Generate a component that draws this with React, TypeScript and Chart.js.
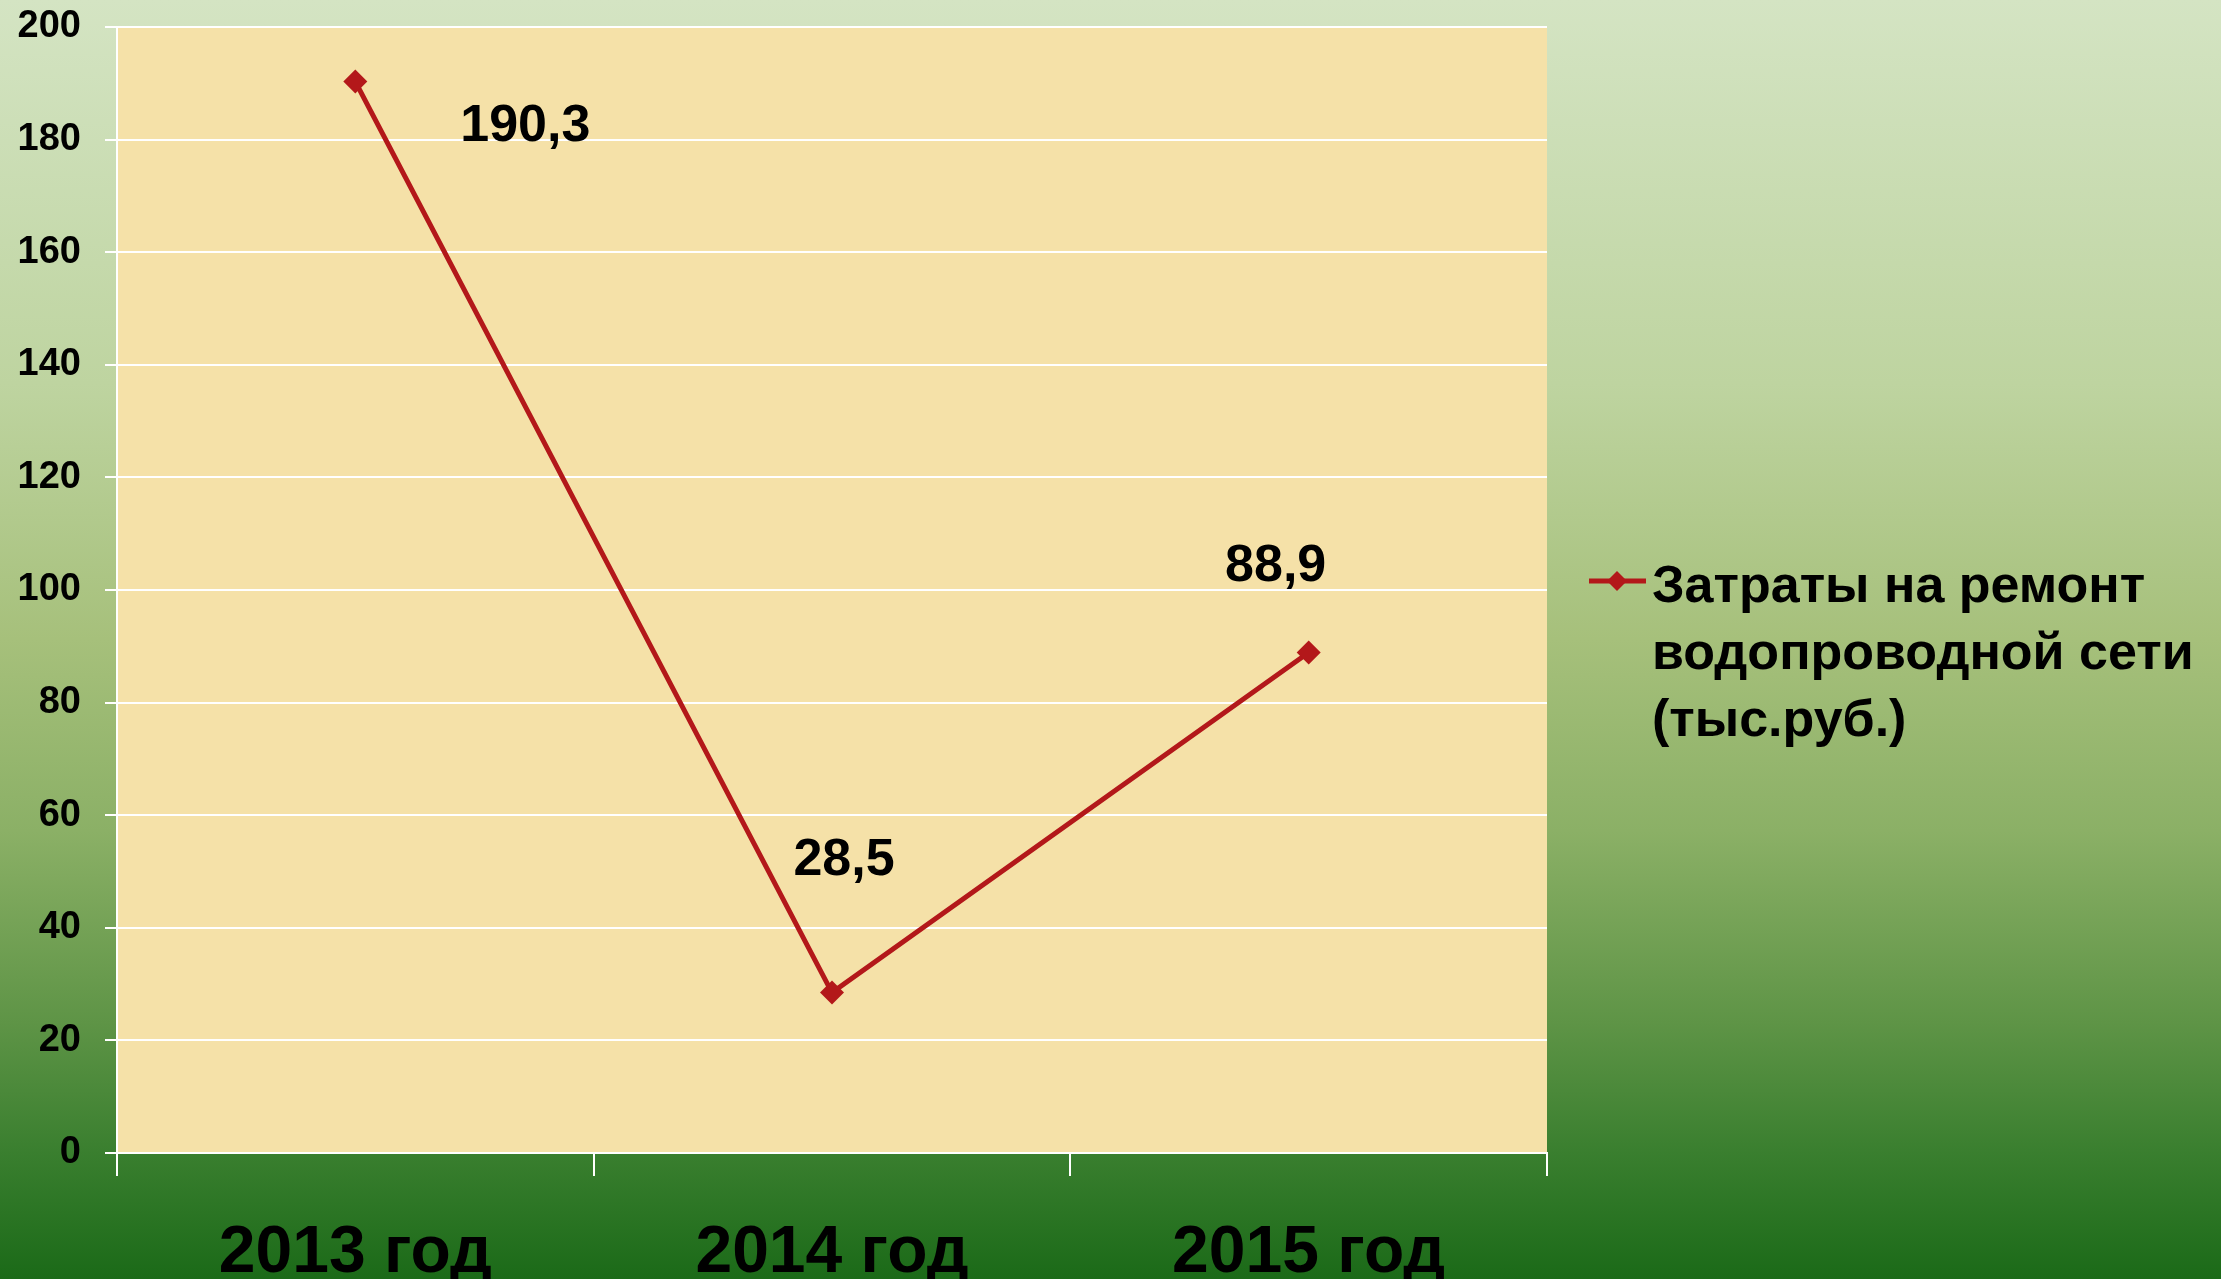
import React, { useEffect, useRef } from "react";
import { Chart, registerables } from "chart.js";

Chart.register(...registerables);

const categories: string[] = ["2013 год", "2014 год", "2015 год"];
const seriesName: string[] = ["Затраты на ремонт", "водопроводной сети", "(тыс.руб.)"];
const seriesValues: number[] = [190.3, 28.5, 88.9];
const valueLabels: string[] = ["190,3", "28,5", "88,9"];
const yTicks: number[] = [0, 20, 40, 60, 80, 100, 120, 140, 160, 180, 200];

const FONT = "'Liberation Sans', Arial, sans-serif";
const LINE_COLOR = "#b3181a";
const PLOT_BG = "#f5e1a8";

const W = 2221;
const H = 1279;

export default function App() {
  const canvasRef = useRef<HTMLCanvasElement | null>(null);

  useEffect(() => {
    const canvas = canvasRef.current;
    if (!canvas) return;

    const backgroundPlugin = {
      id: "bgPlugin",
      beforeDraw(chart: any) {
        const { ctx, chartArea } = chart;
        ctx.save();
        const g = ctx.createLinearGradient(0, 0, 0, H);
        g.addColorStop(0, "#d4e4c3");
        g.addColorStop(0.3, "#bed4a0");
        g.addColorStop(0.5, "#a6c07b");
        g.addColorStop(0.65, "#8bb066");
        g.addColorStop(0.8, "#5e9446");
        g.addColorStop(0.9, "#3a7f2f");
        g.addColorStop(1, "#1b6a18");
        ctx.fillStyle = g;
        ctx.fillRect(0, 0, W, H);
        ctx.fillStyle = PLOT_BG;
        ctx.fillRect(chartArea.left, chartArea.top, chartArea.right - chartArea.left, chartArea.bottom - chartArea.top);
        ctx.restore();
      },
    };

    const labelOffsets = [
      [170, 45],
      [12, -132],
      [-33, -86],
    ];

    const dataLabelPlugin = {
      id: "dataLabels",
      afterDatasetsDraw(chart: any) {
        const { ctx } = chart;
        const meta = chart.getDatasetMeta(0);
        ctx.save();
        ctx.font = `bold 52px ${FONT}`;
        ctx.fillStyle = "#000000";
        ctx.textAlign = "center";
        ctx.textBaseline = "middle";
        meta.data.forEach((pt: any, i: number) => {
          const off = labelOffsets[i] || [0, -40];
          ctx.fillText(valueLabels[i], pt.x + off[0], pt.y + off[1]);
        });
        ctx.restore();
      },
    };

    const legendPlugin = {
      id: "customLegend",
      afterDraw(chart: any) {
        const { ctx } = chart;
        const x0 = chart.chartArea.right + 42;
        const yLine = 581;
        ctx.save();
        ctx.strokeStyle = LINE_COLOR;
        ctx.lineWidth = 5;
        ctx.beginPath();
        ctx.moveTo(x0, yLine);
        ctx.lineTo(x0 + 57, yLine);
        ctx.stroke();
        ctx.fillStyle = LINE_COLOR;
        const cx = x0 + 28;
        const r = 10;
        ctx.beginPath();
        ctx.moveTo(cx - r, yLine);
        ctx.lineTo(cx, yLine - r);
        ctx.lineTo(cx + r, yLine);
        ctx.lineTo(cx, yLine + r);
        ctx.closePath();
        ctx.fill();
        ctx.font = `bold 52px ${FONT}`;
        ctx.fillStyle = "#000000";
        ctx.textAlign = "left";
        ctx.textBaseline = "alphabetic";
        seriesName.forEach((line, i) => {
          ctx.fillText(line, x0 + 63, 602 + i * 67);
        });
        ctx.restore();
      },
    };

    const chart = new Chart(canvas, {
      type: "line",
      data: {
        labels: categories,
        datasets: [
          {
            label: seriesName.join(" "),
            data: seriesValues,
            borderColor: LINE_COLOR,
            backgroundColor: LINE_COLOR,
            borderWidth: 5,
            pointStyle: "rectRot",
            pointRadius: 12,
            pointBorderWidth: 0,
            pointBackgroundColor: LINE_COLOR,
            tension: 0,
            fill: false,
          },
        ],
      },
      options: {
        responsive: false,
        animation: false,
        devicePixelRatio: 1,
        layout: { padding: { top: 27, right: 674, left: 0, bottom: 0 } },
        plugins: {
          legend: { display: false },
          tooltip: { enabled: false },
          title: { display: false },
        },
        scales: {
          x: {
            type: "category",
            offset: true,
            grid: {
              display: true,
              drawOnChartArea: false,
              drawTicks: true,
              tickLength: 23,
              color: "#ffffff",
              lineWidth: 2,
              offset: true,
            },
            border: { display: true, color: "#ffffff", width: 2 },
            ticks: {
              color: "#000000",
              font: { family: FONT, size: 66, weight: "bold" },
              padding: 38,
              maxRotation: 0,
            },
            afterFit: (s: any) => {
              s.height = 126;
              s.paddingLeft = 0;
              s.paddingRight = 0;
            },
          },
          y: {
            min: 0,
            max: 200,
            afterBuildTicks: (s: any) => {
              s.ticks = yTicks.map((v) => ({ value: v }));
            },
            grid: {
              color: "#ffffff",
              lineWidth: 2,
              tickLength: 12,
              drawTicks: true,
            },
            border: { display: true, color: "#ffffff", width: 2 },
            ticks: {
              color: "#000000",
              font: { family: FONT, size: 38, weight: "bold" },
              padding: 24,
            },
            afterFit: (s: any) => {
              s.width = 117;
              s.paddingTop = 0;
              s.paddingBottom = 0;
            },
          },
        },
      },
      plugins: [backgroundPlugin, dataLabelPlugin, legendPlugin],
    });

    return () => {
      chart.destroy();
    };
  }, []);

  return (
    <div style={{ position: "absolute", left: 0, top: 0, width: W, height: H, overflow: "hidden" }}>
      <canvas ref={canvasRef} width={W} height={H} style={{ display: "block", width: W, height: H }} />
    </div>
  );
}
